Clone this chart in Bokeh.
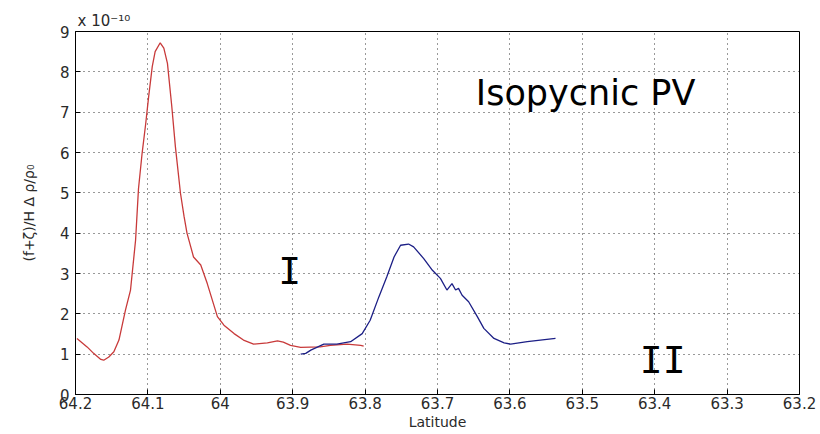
from bokeh.plotting import figure
from bokeh.models import Range1d, FixedTicker, Label, Title
from bokeh.embed import file_html
from bokeh.resources import INLINE

# Potential vorticity on an isopycnal (units of 1e-10) versus latitude
red_lat = [64.198, 64.184, 64.175, 64.165, 64.161, 64.154, 64.147, 64.140, 64.131, 64.124,
           64.117, 64.113, 64.108, 64.103, 64.099, 64.094, 64.090, 64.083, 64.078, 64.073,
           64.067, 64.062, 64.055, 64.050, 64.046, 64.037, 64.027, 64.018, 64.004, 63.995,
           63.981, 63.968, 63.954, 63.935, 63.921, 63.913, 63.903, 63.889, 63.862, 63.848,
           63.825, 63.806, 63.802]
red_pv = [1.39, 1.18, 1.02, 0.87, 0.85, 0.93, 1.06, 1.35, 2.09, 2.59,
          3.83, 5.10, 5.98, 6.72, 7.38, 8.13, 8.50, 8.72, 8.59, 8.21,
          7.14, 6.14, 4.99, 4.41, 4.00, 3.41, 3.21, 2.75, 1.93, 1.72,
          1.51, 1.35, 1.25, 1.28, 1.33, 1.30, 1.22, 1.17, 1.18, 1.22,
          1.25, 1.22, 1.20]

blue_lat = [63.889, 63.882, 63.875, 63.857, 63.839, 63.820, 63.804, 63.793, 63.781, 63.770,
            63.760, 63.751, 63.740, 63.733, 63.719, 63.707, 63.696, 63.687, 63.680, 63.675,
            63.671, 63.666, 63.657, 63.645, 63.636, 63.622, 63.608, 63.599, 63.576, 63.558,
            63.537]
blue_pv = [1.00, 1.02, 1.10, 1.25, 1.25, 1.31, 1.51, 1.84, 2.42, 2.92,
           3.41, 3.70, 3.73, 3.66, 3.37, 3.08, 2.88, 2.59, 2.75, 2.59,
           2.63, 2.46, 2.30, 1.93, 1.64, 1.39, 1.28, 1.25, 1.31, 1.35,
           1.39]

x_ticks = [64.2, 64.1, 64.0, 63.9, 63.8, 63.7, 63.6, 63.5, 63.4, 63.3, 63.2]
x_tick_labels = ["64.2", "64.1", "64", "63.9", "63.8", "63.7", "63.6", "63.5", "63.4", "63.3", "63.2"]
y_ticks = [0, 1, 2, 3, 4, 5, 6, 7, 8, 9]
y_multiplier = "x 10\u207b\u00b9\u2070"

FONT = "DejaVu Sans"
TICK_COLOR = "#2a2a2a"

p = figure(width=820, height=434, output_backend="svg", toolbar_location=None,
           x_range=Range1d(64.2, 63.2), y_range=Range1d(0, 9),
           min_border_left=75, min_border_right=21, min_border_top=31, min_border_bottom=40)

p.background_fill_color = "white"
p.border_fill_color = "white"
p.outline_line_color = "black"
p.outline_line_width = 1

for ax in (p.xaxis[0], p.yaxis[0]):
    ax.major_tick_in = 5
    ax.major_tick_out = 0
    ax.minor_tick_line_color = None
    ax.axis_line_color = "black"
    ax.major_tick_line_color = "black"
    ax.major_label_text_font = FONT
    ax.major_label_text_font_size = "15px"
    ax.major_label_text_color = TICK_COLOR
    ax.axis_label_text_font = FONT
    ax.axis_label_text_font_style = "normal"
    ax.axis_label_text_color = TICK_COLOR

p.xaxis.ticker = FixedTicker(ticks=x_ticks)
p.xaxis.major_label_overrides = dict(zip(x_ticks, x_tick_labels))
p.xaxis.axis_label = "Latitude"
p.xaxis.axis_label_text_font_size = "14px"
p.xaxis.major_label_standoff = 2
p.xaxis.axis_label_standoff = 2

p.yaxis.ticker = FixedTicker(ticks=y_ticks)
p.yaxis.axis_label = "(f+\u03b6)/H \u0394 \u03c1/\u03c1\u2080"
p.yaxis.axis_label_text_font_size = "14px"
p.yaxis.major_label_standoff = 6
p.yaxis.axis_label_standoff = 20

for g in (p.xgrid[0], p.ygrid[0]):
    g.grid_line_color = "black"
    g.grid_line_alpha = 0.8
    g.grid_line_dash = "1 4"
    g.grid_line_width = 1

p.line(red_lat, red_pv, line_color="#c83a3a", line_width=1.3)
p.line(blue_lat, blue_pv, line_color="#1c1f86", line_width=1.3)

# Scale multiplier of the y axis, above the top-left corner of the frame
p.add_layout(Title(text=y_multiplier, align="left", offset=2, standoff=4,
                   text_font=FONT, text_font_size="15px", text_font_style="normal",
                   text_color=TICK_COLOR), "above")

# Annotations
p.add_layout(Label(x=63.647, y=7.48, text="Isopycnic PV", text_font=FONT,
                   text_font_size="35px", text_color="black", text_baseline="middle"))
p.add_layout(Label(x=63.904, y=3.05, text="I", text_font="DejaVu Sans Mono",
                   text_font_size="38px", text_color="black", text_align="center",
                   text_baseline="middle"))
p.add_layout(Label(x=63.389, y=0.85, text="II", text_font="DejaVu Sans Mono",
                   text_font_size="38px", text_color="black", text_align="center",
                   text_baseline="middle"))

open("out.html", "w").write(file_html(p, INLINE))
